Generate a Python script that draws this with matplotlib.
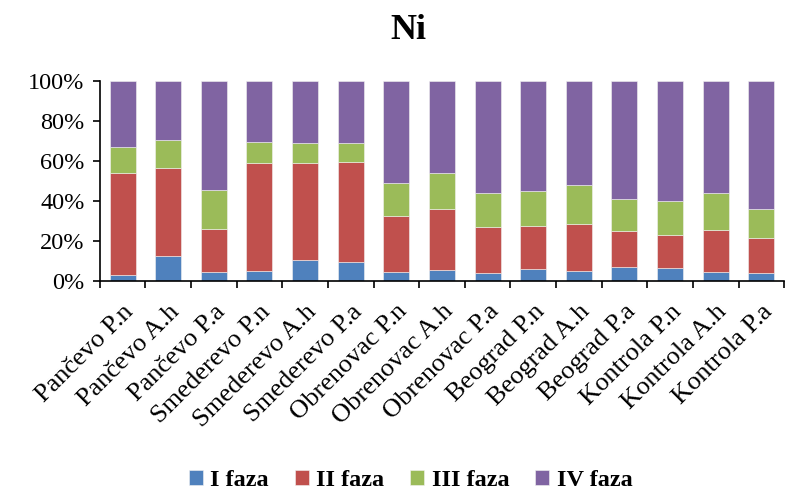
import matplotlib
matplotlib.use("Agg")
import matplotlib.pyplot as plt
import numpy as np

categories = [
    "Pančevo P.n", "Pančevo A.h", "Pančevo P.a",
    "Smederevo P.n", "Smederevo A.h", "Smederevo P.a",
    "Obrenovac P.n", "Obrenovac A.h", "Obrenovac P.a",
    "Beograd P.n", "Beograd A.h", "Beograd P.a",
    "Kontrola P.n", "Kontrola A.h", "Kontrola P.a",
]
faza_1 = [3.2, 12.7, 4.5, 5.0, 10.4, 9.7, 4.7, 5.7, 4.2, 6.0, 4.9, 6.9, 6.5, 4.7, 4.2]
faza_2 = [50.7, 43.7, 21.7, 54.2, 48.6, 49.8, 27.8, 30.3, 23.0, 21.5, 23.5, 18.1, 16.5, 21.0, 17.5]
faza_3 = [13.1, 14.0, 19.2, 10.3, 9.9, 9.5, 16.7, 18.0, 16.7, 17.4, 19.5, 16.2, 16.9, 18.5, 14.3]
faza_4 = [33.0, 29.6, 54.6, 30.5, 31.1, 31.0, 50.8, 46.0, 56.1, 55.1, 52.1, 58.8, 60.1, 55.8, 64.0]
series_names = ["I faza", "II faza", "III faza", "IV faza"]
colors = ["#4F81BD", "#C0504D", "#9BBB59", "#8064A2"]

plt.rcParams["font.family"] = ["Liberation Serif", "DejaVu Serif"]

fig = plt.figure(figsize=(7.85, 4.9), dpi=100)
ax = fig.add_axes([0.127, 0.4265, 0.872, 0.408])

data = np.array([faza_1, faza_2, faza_3, faza_4])
data = data / data.sum(axis=0) * 100
x = np.arange(len(categories))
bottom = np.zeros(len(categories))
for vals, name, col in zip(data, series_names, colors):
    ax.bar(x, vals, 0.57, bottom=bottom, color=col, label=name,
           edgecolor="#f2f2f2", linewidth=0.4)
    bottom += vals

ax.set_xlim(-0.5, len(categories) - 0.5)
ax.set_ylim(0, 100)
ax.set_yticks(np.arange(0, 101, 20))
ax.set_yticklabels([f"{v}%" for v in range(0, 101, 20)], fontsize=17.5)
ax.set_xticks(x)
ax.set_xticklabels(categories, rotation=45, ha="right", rotation_mode="anchor", fontsize=19)
ax.tick_params(axis="x", length=0, pad=14)
ax.set_xticks(np.arange(-0.5, len(categories), 1), minor=True)
ax.tick_params(axis="x", which="minor", length=5, width=1.2, direction="out")
ax.tick_params(axis="y", length=5, width=1.2, direction="out", pad=6)
for s in ["top", "right"]:
    ax.spines[s].set_visible(False)
for s in ["left", "bottom"]:
    ax.spines[s].set_linewidth(1.2)

fig.text(0.52, 0.938, "Ni", fontsize=26, fontweight="bold", ha="center", va="center")
fig.legend(loc="center", ncol=4, frameon=False, bbox_to_anchor=(0.523, 0.02),
           prop={"weight": "bold", "size": 17.5}, handlelength=0.58, handleheight=0.58,
           handletextpad=0.3, columnspacing=1.07, borderaxespad=0, borderpad=0)

fig.savefig("out.png", dpi=100)
